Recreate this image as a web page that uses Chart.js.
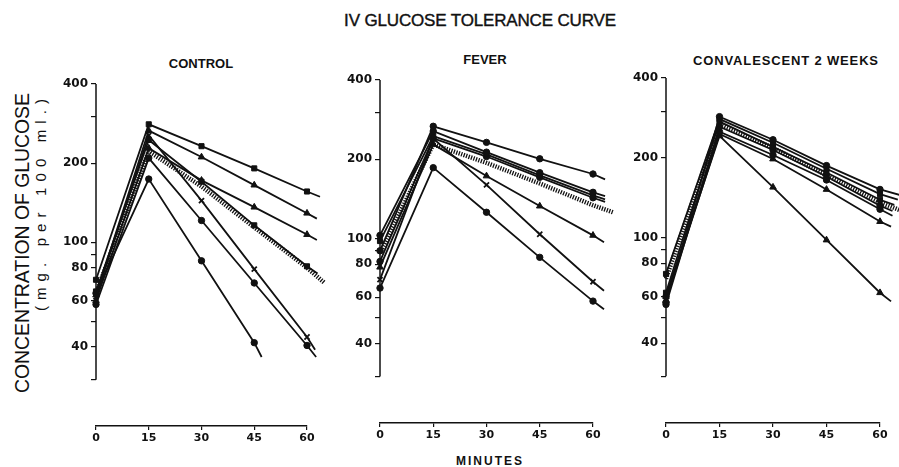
<!DOCTYPE html>
<html><head><meta charset="utf-8">
<script src="https://cdn.jsdelivr.net/npm/chart.js@4.4.1/dist/chart.umd.min.js"></script>
<style>
html,body{margin:0;padding:0;background:#fff;}
body{width:899px;height:467px;position:relative;overflow:hidden;font-family:"Liberation Sans",Arial,sans-serif;color:#111;}
.t{position:absolute;white-space:nowrap;transform:translate(-50%,-50%);line-height:1;}
.rot{transform:translate(-50%,-50%) rotate(-90deg);}
.b{font-weight:bold;}
canvas{position:absolute;}
</style></head><body>
<div class="t" id="title" style="left:480px;top:20px;font-size:17px;-webkit-text-stroke:0.4px #111;">IV GLUCOSE TOLERANCE CURVE</div>
<div class="t b" id="p1t" style="left:201px;top:63px;font-size:13px;">CONTROL</div>
<div class="t b" id="p2t" style="left:485px;top:59px;font-size:13px;">FEVER</div>
<div class="t b" id="p3t" style="left:786px;top:60px;font-size:13px;">CONVALESCENT 2 WEEKS</div>
<div class="t b" id="xt" style="left:490px;top:461px;font-size:12px;">MINUTES</div>
<div class="t rot" id="yt1" style="left:23px;top:243px;font-size:19.5px;">CONCENTRATION OF GLUCOSE</div>
<div class="t rot" id="yt2" style="left:40px;top:202px;font-size:15px;">(mg. per 100 ml.)</div>
<canvas id="c1" width="294" height="396" style="left:36px;top:60px;"></canvas>
<canvas id="c2" width="300" height="397" style="left:320px;top:56px;"></canvas>
<canvas id="c3" width="293" height="399" style="left:606px;top:54px;"></canvas>
<script>
// ---- data (mg per 100 ml) ----
const minutes = [0, 15, 30, 45, 60];
const yTickValues = [30, 40, 50, 60, 80, 90, 100, 200, 300, 400];
const yTickLabels = [40, 60, 80, 100, 200, 400];

// CONTROL
const ctrlA = [72, 281, 232, 191, 156];
const ctrlB = [63, 266, 211, 165, 129];
const ctrlC = [60, 228, 172, 136, 107];
const ctrlD = [65, 245, 170, 116, 81];
const ctrlE = [62, 255, 144, 79, 43.6];
const ctrlF = [58, 209, 121, 70, 40.5];
const ctrlG = [64, 174, 85, 41.5];
const ctrlMean = [64, 222, 163, 114, 80];
const ctrlEndMin = [63.7, 62.8, 62.8, 63, 62.3, 62.6, 47.1, 65];
const ctrlEndVal = [149, 123, 102, 76, 39, 36.6, 36.6, 70];

// FEVER
const fevA = [90, 267, 232, 201, 176];
const fevB = [103, 256, 213, 178, 150];
const fevC = [98, 245, 209, 174, 146];
const fevD = [82, 240, 205, 171, 143];
const fevE = [78, 228, 173, 133, 103];
const fevF = [70, 240, 160, 104, 68.7];
const fevG = [65, 186, 126, 85, 58];
const fevMean = [88, 228, 194, 162, 134];
const fevEndMin = [63.4, 63.4, 63.4, 63.4, 63.1, 63.1, 63.1, 65.6];
const fevEndVal = [168, 145, 141, 138, 97, 63.5, 54, 126];

// CONVALESCENT 2 WEEKS
const convA = [57, 286, 234, 187, 152];
const convB = [73, 280, 228, 182, 146];
const convC = [62, 274, 220, 176, 139];
const convD = [56, 262, 214, 170, 132];
const convE = [60, 251, 205, 165, 128];
const convF = [58, 246, 198, 152, 115];
const convG = [60, 242, 155, 98, 62];
const convMean = [70, 268, 218, 172, 136];
const convEndMin = [65.4, 65, 64, 63.5, 63.5, 63.1, 63.1, 65.5];
const convEndVal = [145, 139, 133, 126, 121, 110, 57.5, 127];

// ---- styles ----
const INK = '#111';
const ctrlStyles = ['rect', 'triangle', 'triangle', 'rect', 'crossRot', 'circle', 'circle', 'mean'];
const fevStyles = ['circle', 'circle', 'rect', 'circle', 'triangle', 'crossRot', 'circle', 'mean'];
const convStyles = ['circle', 'rect', 'rect', 'circle', 'circle', 'triangle', 'triangle', 'mean'];
const markerRadius = {rect: 3.6, circle: 3.2, triangle: 3.8, crossRot: 3.6};

function toPoints(vals, endMin, endVal) {
  const pts = vals.map((v, i) => ({x: minutes[i], y: v}));
  pts.push({x: endMin, y: endVal});
  return pts;
}

const yAxisLine = {
  id: 'yAxisLine',
  afterDraw(chart) {
    const y = chart.scales.y, ctx = chart.ctx, L = chart.chartArea.left;
    ctx.save();
    ctx.strokeStyle = INK; ctx.lineWidth = 1.5;
    ctx.beginPath();
    ctx.moveTo(L, y.getPixelForValue(400));
    ctx.lineTo(L, y.getPixelForValue(30));
    ctx.stroke();
    ctx.restore();
  }
};

function makePanel(id, seriesList, endMin, endVal, styles, padRight) {
  const datasets = seriesList.map((vals, k) => {
    const mean = styles[k] === 'mean';
    return {
      data: toPoints(vals, endMin[k], endVal[k]),
      borderColor: INK,
      backgroundColor: INK,
      borderWidth: mean ? 4.5 : 1.8,
      borderDash: mean ? [1.3, 1.3] : [],
      borderCapStyle: 'butt',
      pointStyle: mean ? 'circle' : styles[k],
      pointBorderWidth: styles[k] === 'crossRot' ? 1.8 : 1,
      pointRadius: (c) => (mean || c.dataIndex === c.dataset.data.length - 1) ? 0 : markerRadius[styles[k]],
      tension: 0,
      fill: false,
      clip: false,
      order: mean ? 0 : 1
    };
  });
  return new Chart(document.getElementById(id), {
    type: 'line',
    data: {datasets},
    options: {
      responsive: false,
      devicePixelRatio: 1,
      animation: false,
      events: [],
      layout: {padding: {top: 24, right: padRight, left: 0, bottom: 0}},
      plugins: {legend: {display: false}, tooltip: {enabled: false}, title: {display: false}},
      scales: {
        x: {
          type: 'linear',
          afterDataLimits: (s) => { s.min = 0; s.max = 60; },
          afterFit: (s) => { s.height = 30; },
          ticks: {stepSize: 15, color: INK, padding: 2, maxRotation: 0,
                  font: {family: 'DejaVu Sans', weight: 'bold', size: 11}},
          grid: {drawOnChartArea: false, drawTicks: true, tickLength: 4, color: INK, lineWidth: 1.2},
          border: {display: true, color: INK, width: 1.5}
        },
        y: {
          type: 'logarithmic', min: 20, max: 400,
          afterFit: (s) => { s.width = 60; },
          afterBuildTicks: (s) => { s.ticks = yTickValues.map(v => ({value: v})); },
          ticks: {autoSkip: false, color: INK, padding: 3,
                  font: {family: 'DejaVu Sans', weight: 'bold', size: 12},
                  callback: (v) => yTickLabels.includes(v) ? String(v) : ''},
          grid: {drawOnChartArea: false, drawTicks: true, tickLength: 5, color: INK, lineWidth: 1.2},
          border: {display: false}
        }
      }
    },
    plugins: [yAxisLine]
  });
}

makePanel('c1', [ctrlA, ctrlB, ctrlC, ctrlD, ctrlE, ctrlF, ctrlG, ctrlMean], ctrlEndMin, ctrlEndVal, ctrlStyles, 23);
makePanel('c2', [fevA, fevB, fevC, fevD, fevE, fevF, fevG, fevMean], fevEndMin, fevEndVal, fevStyles, 27);
makePanel('c3', [convA, convB, convC, convD, convE, convF, convG, convMean], convEndMin, convEndVal, convStyles, 19);

// fit texts to the widths seen in the reference
function fitWidth(id, target) {
  const el = document.getElementById(id);
  el.style.letterSpacing = '0px';
  const w = el.offsetWidth;
  const n = el.textContent.length;
  el.style.letterSpacing = ((target - w) / n) + 'px';
}
fitWidth('title', 272);
fitWidth('p3t', 186);
fitWidth('xt', 68);
fitWidth('yt1', 300);
fitWidth('yt2', 218);
</script>
</body></html>
